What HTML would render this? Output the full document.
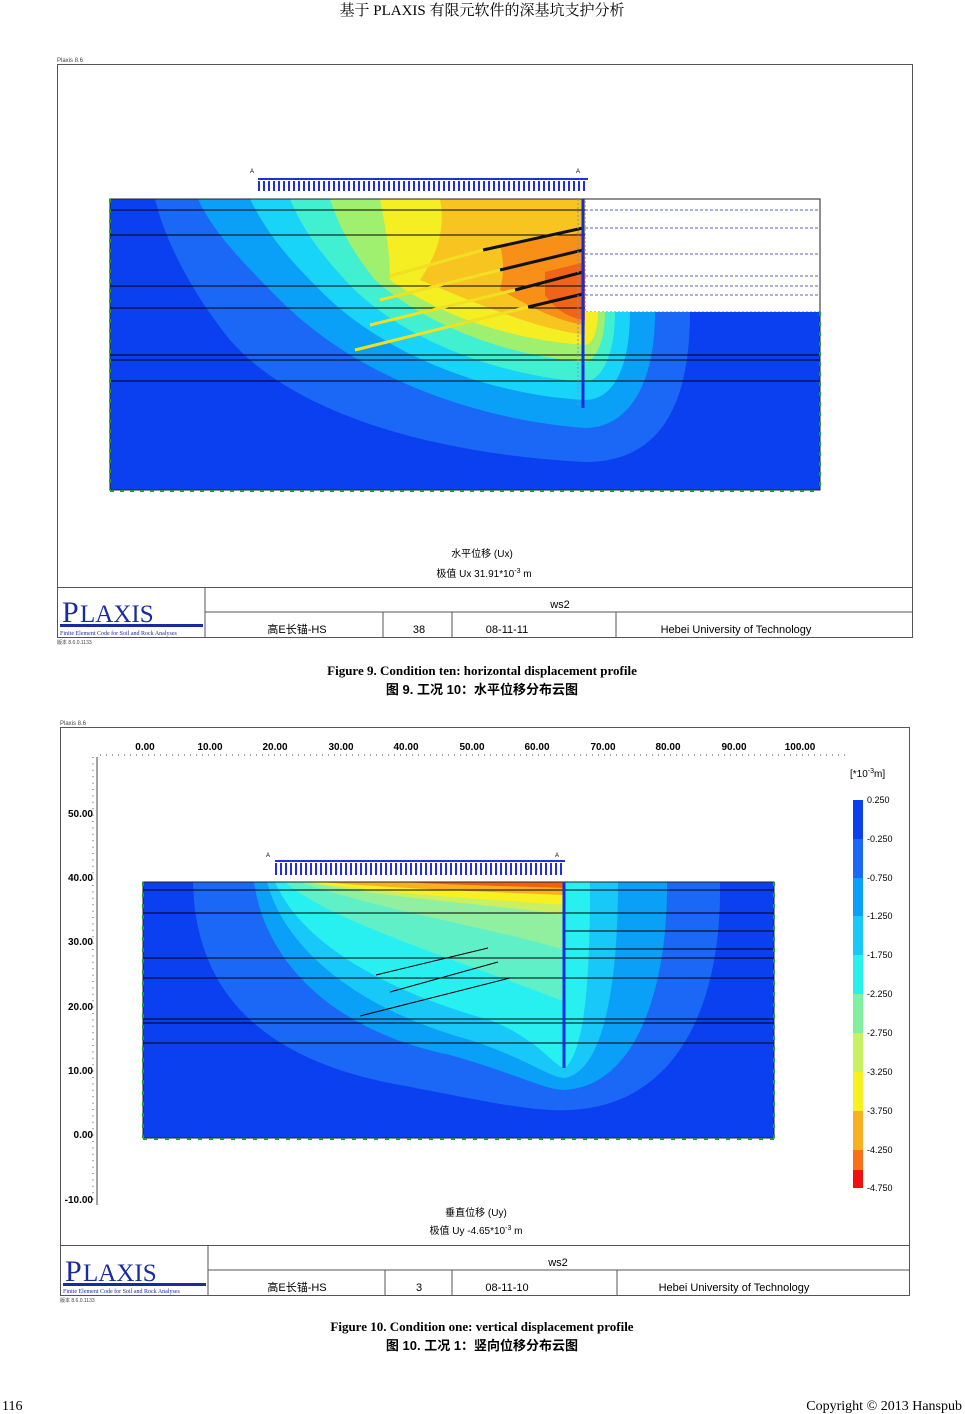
<!DOCTYPE html>
<html><head><meta charset="utf-8"><style>
html,body{margin:0;padding:0;background:#fff;width:965px;height:1414px;overflow:hidden}
svg{display:block}
text{font-family:"Liberation Sans","Noto Sans CJK SC",sans-serif}
.serif{font-family:"Liberation Serif","Noto Serif CJK SC",serif}
</style></head><body>
<svg width="965" height="1414" viewBox="0 0 965 1414" xmlns="http://www.w3.org/2000/svg">
<defs>
<clipPath id="c1"><path d="M110,199 L585,199 L585,312 L820,312 L820,490 L110,490 Z"/></clipPath>
<clipPath id="c2"><rect x="143" y="882" width="631" height="256"/></clipPath>
</defs>
<text x="482" y="15" class="serif" font-size="15" text-anchor="middle">基于 PLAXIS 有限元软件的深基坑支护分析</text>

<!-- Figure 1 -->
<text x="57" y="62" font-size="6" fill="#444">Plaxis 8.6</text>
<rect x="57.5" y="64.5" width="855" height="573" fill="#fff" stroke="#555"/>
<rect x="585" y="199" width="235" height="113" fill="#fff" stroke="#7070c0" stroke-dasharray="2,2"/>
<g clip-path="url(#c1)">
<rect x="110" y="199" width="710" height="291" fill="#0a40f0"/>
<path d="M155,199 L585,199 L585,312 L690,312 C690,420 650,462 585,462 C450,455 300,420 230,340 C190,290 165,240 155,199Z" fill="#1a68f5"/>
<path d="M198,199 L585,199 L585,312 L655,312 C655,390 625,428 585,428 C480,420 360,380 280,300 C240,260 212,230 198,199Z" fill="#0aa0f8"/>
<path d="M250,199 L585,199 L585,312 L630,312 C630,370 612,400 585,400 C490,395 380,355 315,285 C285,255 265,230 250,199Z" fill="#18d4f8"/>
<path d="M290,199 L585,199 L585,312 L615,312 C615,355 602,380 585,382 C500,376 400,340 345,280 C318,250 302,228 290,199Z" fill="#40f0d0"/>
<path d="M330,199 L585,199 L585,312 L605,312 C605,342 596,360 585,362 C510,356 430,328 375,280 C355,255 340,230 330,199Z" fill="#a0f070"/>
<path d="M380,199 L585,199 L585,312 L598,312 C598,332 592,345 585,345 C510,340 440,315 390,280 C390,250 385,225 380,199Z" fill="#f4ee22"/>
<path d="M440,199 L585,199 L585,335 C530,328 470,300 420,280 C440,250 445,225 440,199Z" fill="#f8c420"/>
<path d="M500,245 L585,232 L585,325 C550,320 520,300 500,290 C505,270 503,258 500,245Z" fill="#f89018"/>
<path d="M545,272 L585,262 L585,320 C565,318 552,305 545,295Z" fill="#f06418"/>
</g>
<g stroke="#000" stroke-width="1">
<line x1="110" y1="210" x2="585" y2="210"/><line x1="110" y1="235" x2="585" y2="235"/>
<line x1="110" y1="286" x2="585" y2="286"/>
<line x1="110" y1="308" x2="585" y2="308"/><line x1="110" y1="355" x2="820" y2="355"/>
<line x1="110" y1="360" x2="820" y2="360"/><line x1="110" y1="381" x2="820" y2="381"/>
</g>
<g stroke="#6060c0" stroke-dasharray="3,2"><line x1="585" y1="210" x2="820" y2="210"/><line x1="585" y1="228" x2="820" y2="228"/><line x1="585" y1="254" x2="820" y2="254"/><line x1="585" y1="276" x2="820" y2="276"/><line x1="585" y1="286" x2="820" y2="286"/><line x1="585" y1="295" x2="820" y2="295"/></g>
<rect x="110" y="199" width="710" height="291" fill="none" stroke="#222"/>
<g stroke-width="3">
<line x1="483" y1="250" x2="583" y2="228" stroke="#111"/><line x1="390" y1="276" x2="483" y2="250" stroke="#f0e020"/>
<line x1="500" y1="270" x2="583" y2="250" stroke="#111"/><line x1="380" y1="300" x2="500" y2="270" stroke="#f0e020"/>
<line x1="515" y1="290" x2="583" y2="272" stroke="#111"/><line x1="370" y1="325" x2="515" y2="290" stroke="#f0e020"/>
<line x1="528" y1="307" x2="583" y2="294" stroke="#111"/><line x1="355" y1="350" x2="528" y2="307" stroke="#f0e020"/>
</g>
<line x1="583" y1="199" x2="583" y2="408" stroke="#1030e0" stroke-width="3"/>
<line x1="578" y1="199" x2="578" y2="405" stroke="#8090c0" stroke-width="1" stroke-dasharray="2,2"/>
<rect x="258" y="178" width="330" height="2" fill="#2030e0"/>
<line x1="258" y1="186" x2="588" y2="186" stroke="#2030e0" stroke-width="10" stroke-dasharray="2,3"/>
<text x="250" y="173" font-size="6">A</text><text x="576" y="173" font-size="6">A</text>
<g stroke="#20a020" stroke-width="2" stroke-dasharray="4,6"><line x1="110" y1="199" x2="110" y2="490"/><line x1="820" y1="312" x2="820" y2="490"/><line x1="110" y1="491" x2="820" y2="491"/></g>
<text x="482" y="557" font-size="10" text-anchor="middle">水平位移 (Ux)</text>
<text x="484" y="577" font-size="10" text-anchor="middle">极值 Ux 31.91*10<tspan font-size="7" dy="-4">-3</tspan><tspan dy="4"> m</tspan></text>
<rect x="57.5" y="587.5" width="855" height="50" fill="none" stroke="#555"/>
<line x1="205" y1="587" x2="205" y2="637" stroke="#555"/><line x1="205" y1="612" x2="912" y2="612" stroke="#555"/>
<line x1="383" y1="612" x2="383" y2="637" stroke="#555"/><line x1="452" y1="612" x2="452" y2="637" stroke="#555"/><line x1="616" y1="612" x2="616" y2="637" stroke="#555"/>
<text x="62" y="622" class="serif" font-size="30" fill="#1a2aa0">P</text><text x="80" y="622" class="serif" font-size="25" fill="#1a2aa0">LAXIS</text>
<rect x="60" y="624" width="143" height="3" fill="#1a2aa0"/>
<text x="60" y="635" class="serif" font-size="6" fill="#1a2aa0">Finite Element Code for Soil and Rock Analyses</text>
<text x="560" y="608" font-size="11" text-anchor="middle">ws2</text>
<text x="297" y="633" font-size="11" text-anchor="middle">高E长锚-HS</text><text x="419" y="633" font-size="11" text-anchor="middle">38</text>
<text x="507" y="633" font-size="11" text-anchor="middle">08-11-11</text><text x="736" y="633" font-size="11" text-anchor="middle">Hebei University of Technology</text>
<text x="57" y="644" font-size="5" fill="#444">版本 8.6.0.1133</text>

<text x="482" y="675" class="serif" font-size="13" font-weight="bold" text-anchor="middle">Figure 9. Condition ten: horizontal displacement profile</text>
<text x="482" y="694" font-size="13" font-weight="bold" text-anchor="middle">图 9.  工况 10：水平位移分布云图</text>

<!-- Figure 2 -->
<text x="60" y="725" font-size="6" fill="#444">Plaxis 8.6</text>
<rect x="60.5" y="727.5" width="849" height="568" fill="#fff" stroke="#555"/>
<line x1="100" y1="755" x2="845" y2="755" stroke="#444" stroke-dasharray="1,5"/>
<line x1="97" y1="757" x2="97" y2="1205" stroke="#444"/>
<line x1="93" y1="757" x2="93" y2="1205" stroke="#444" stroke-dasharray="1,5.4"/>
<g font-size="10" font-weight="bold" text-anchor="middle">
<text x="145" y="750">0.00</text><text x="210" y="750">10.00</text><text x="275" y="750">20.00</text><text x="341" y="750">30.00</text><text x="406" y="750">40.00</text><text x="472" y="750">50.00</text><text x="537" y="750">60.00</text><text x="603" y="750">70.00</text><text x="668" y="750">80.00</text><text x="734" y="750">90.00</text><text x="800" y="750">100.00</text>
</g>
<g font-size="10" font-weight="bold" text-anchor="end">
<text x="93" y="817">50.00</text><text x="93" y="881">40.00</text><text x="93" y="945">30.00</text><text x="93" y="1010">20.00</text><text x="93" y="1074">10.00</text><text x="93" y="1138">0.00</text><text x="93" y="1203">-10.00</text>
</g>
<g clip-path="url(#c2)">
<rect x="143" y="882" width="631" height="256" fill="#0a40f0"/>
<path d="M193,882 C195,990 260,1060 400,1085 C480,1100 530,1112 570,1110 C680,1105 722,1000 720,882Z" fill="#1a68f5"/>
<path d="M254,882 C265,960 330,1030 450,1055 C520,1075 545,1090 565,1090 C640,1085 668,980 667,882Z" fill="#0aa0f8"/>
<path d="M267,882 C285,950 360,1010 470,1040 C530,1060 550,1078 565,1078 C605,1070 618,980 618,882Z" fill="#18c8f8"/>
<path d="M275,882 C300,940 380,990 490,1020 C540,1040 555,1068 565,1068 C585,1050 590,980 590,882Z" fill="#28f0f0"/>
<path d="M285,882 C330,920 430,950 560,1000 L565,1000 L565,882Z" fill="#60f0c8"/>
<path d="M300,882 C380,910 480,925 565,950 L565,882Z" fill="#90f0a0"/>
<path d="M305,882 C400,900 500,905 565,915 L565,882Z" fill="#c8f060"/>
<path d="M310,882 C400,895 500,900 565,905 L565,882Z" fill="#f8f020"/>
<path d="M320,882 C420,890 520,893 565,895 L565,882Z" fill="#f8b020"/>
<path d="M400,882 C480,886 540,887 565,888 L565,882Z" fill="#f06010"/>
</g>
<g stroke="#000" stroke-width="1">
<line x1="143" y1="890" x2="774" y2="890"/><line x1="143" y1="913" x2="774" y2="913"/>
<line x1="563" y1="931" x2="774" y2="931"/><line x1="143" y1="958" x2="774" y2="958"/>
<line x1="143" y1="978" x2="774" y2="978"/><line x1="563" y1="949" x2="774" y2="949"/>
<line x1="143" y1="1019" x2="774" y2="1019"/><line x1="143" y1="1023" x2="774" y2="1023"/><line x1="143" y1="1043" x2="774" y2="1043"/>
<line x1="376" y1="975" x2="488" y2="948"/><line x1="390" y1="992" x2="498" y2="962"/><line x1="360" y1="1016" x2="510" y2="978"/>
</g>
<rect x="143" y="882" width="631" height="256" fill="none" stroke="#222"/>
<line x1="564" y1="882" x2="564" y2="1068" stroke="#1030e0" stroke-width="3"/>
<rect x="275" y="860" width="290" height="2" fill="#2030e0"/>
<line x1="275" y1="869" x2="565" y2="869" stroke="#2030e0" stroke-width="12" stroke-dasharray="2,3"/>
<text x="266" y="857" font-size="6">A</text><text x="555" y="857" font-size="6">A</text>
<g stroke="#20a020" stroke-width="2" stroke-dasharray="4,7"><line x1="143" y1="882" x2="143" y2="1138"/><line x1="774" y1="882" x2="774" y2="1138"/><line x1="143" y1="1139" x2="774" y2="1139"/></g>
<text x="850" y="777" font-size="10">[*10<tspan font-size="7" dy="-4">-3</tspan><tspan dy="4">m]</tspan></text>
<rect x="853" y="800" width="10" height="39" fill="#0a40f0"/>
<rect x="853" y="839" width="10" height="39" fill="#1a68f5"/>
<rect x="853" y="878" width="10" height="38" fill="#0aa0f8"/>
<rect x="853" y="916" width="10" height="39" fill="#18c8f8"/>
<rect x="853" y="955" width="10" height="39" fill="#28f0f0"/>
<rect x="853" y="994" width="10" height="39" fill="#80f0a0"/>
<rect x="853" y="1033" width="10" height="39" fill="#c8f060"/>
<rect x="853" y="1072" width="10" height="39" fill="#f8f020"/>
<rect x="853" y="1111" width="10" height="39" fill="#f8b020"/>
<rect x="853" y="1150" width="10" height="20" fill="#f87018"/>
<rect x="853" y="1170" width="10" height="18" fill="#f01010"/>
<g font-size="9">
<text x="867" y="803">0.250</text><text x="867" y="842">-0.250</text><text x="867" y="881">-0.750</text><text x="867" y="919">-1.250</text><text x="867" y="958">-1.750</text><text x="867" y="997">-2.250</text><text x="867" y="1036">-2.750</text><text x="867" y="1075">-3.250</text><text x="867" y="1114">-3.750</text><text x="867" y="1153">-4.250</text><text x="867" y="1191">-4.750</text>
</g>
<text x="476" y="1216" font-size="10" text-anchor="middle">垂直位移 (Uy)</text>
<text x="476" y="1234" font-size="10" text-anchor="middle">极值 Uy -4.65*10<tspan font-size="7" dy="-4">-3</tspan><tspan dy="4"> m</tspan></text>
<rect x="60.5" y="1245.5" width="849" height="50" fill="none" stroke="#555"/>
<line x1="208" y1="1245" x2="208" y2="1295" stroke="#555"/><line x1="208" y1="1270" x2="910" y2="1270" stroke="#555"/>
<line x1="385" y1="1270" x2="385" y2="1295" stroke="#555"/><line x1="452" y1="1270" x2="452" y2="1295" stroke="#555"/><line x1="617" y1="1270" x2="617" y2="1295" stroke="#555"/>
<text x="65" y="1281" class="serif" font-size="30" fill="#1a2aa0">P</text><text x="83" y="1281" class="serif" font-size="25" fill="#1a2aa0">LAXIS</text>
<rect x="63" y="1283" width="143" height="3" fill="#1a2aa0"/>
<text x="63" y="1293" class="serif" font-size="6" fill="#1a2aa0">Finite Element Code for Soil and Rock Analyses</text>
<text x="558" y="1266" font-size="11" text-anchor="middle">ws2</text>
<text x="297" y="1291" font-size="11" text-anchor="middle">高E长锚-HS</text><text x="419" y="1291" font-size="11" text-anchor="middle">3</text>
<text x="507" y="1291" font-size="11" text-anchor="middle">08-11-10</text><text x="734" y="1291" font-size="11" text-anchor="middle">Hebei University of Technology</text>
<text x="60" y="1302" font-size="5" fill="#444">版本 8.6.0.1133</text>

<text x="482" y="1331" class="serif" font-size="13" font-weight="bold" text-anchor="middle">Figure 10. Condition one: vertical displacement profile</text>
<text x="482" y="1350" font-size="13" font-weight="bold" text-anchor="middle">图 10.  工况 1：竖向位移分布云图</text>

<text x="2" y="1410" class="serif" font-size="14">116</text>
<text x="962" y="1410" class="serif" font-size="14" text-anchor="end">Copyright © 2013 Hanspub</text>
</svg>
</body></html>
